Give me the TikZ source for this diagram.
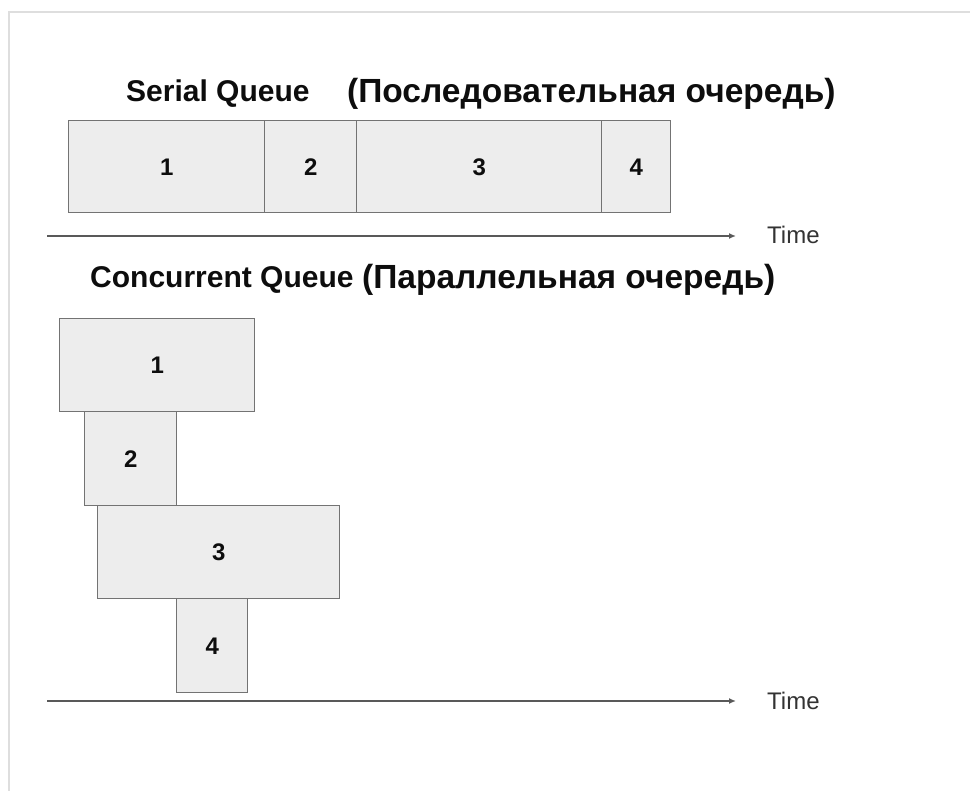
\documentclass[tikz,border=0pt]{standalone}
\usepackage{fontspec}
\setmainfont{Liberation Sans}
\usetikzlibrary{arrows.meta}
\begin{document}
\begin{tikzpicture}[
  x=1pt, y=-1pt,
  job/.style={draw=black!55, fill=black!7, line width=1.4pt, inner sep=0pt, anchor=north west,
    text height=17pt, text depth=0pt, font=\fontsize{24}{26}\selectfont\bfseries, text=black!95},
  title/.style={anchor=base west, inner sep=0pt, font=\fontsize{30}{32}\selectfont\bfseries, text=black!95},
  titleru/.style={anchor=base west, inner sep=0pt, font=\fontsize{33.5}{36}\selectfont\bfseries, text=black!95},
  timeline/.style={draw=black!65, line width=1.4pt, -{Latex[length=7pt,width=6pt]}},
  tlabel/.style={anchor=base west, inner sep=0pt, font=\fontsize{24}{26}\selectfont, text=black!80}
]
  \useasboundingbox (0,0) rectangle (970,791);
  % frame edges
  \draw[black!13, line width=1.5pt] (970,12) -- (9,12) -- (9,791);

  % serial queue
  \node[title] (serial) at (126,102) {Serial Queue};
  \node[titleru] (serialru) at (347,103) {(Последовательная очередь)};
  \node[job, minimum width=196pt, minimum height=92pt] (s1) at (68,120) {1};
  \node[job, minimum width=92pt, minimum height=92pt] (s2) at (264,120) {2};
  \node[job, minimum width=245pt, minimum height=92pt] (s3) at (356,120) {3};
  \node[job, minimum width=69pt, minimum height=92pt] (s4) at (601,120) {4};
  \coordinate (t1a) at (47,236);
  \coordinate (t1b) at (736,236);
  \draw[timeline] (t1a) -- (t1b);
  \node[tlabel] (time1) at (767,244) {Time};

  % concurrent queue
  \node[title] (conc) at (90,288) {Concurrent Queue};
  \node[titleru] (concru) at (362,289) {(Параллельная очередь)};
  \node[job, minimum width=195pt, minimum height=93pt] (c1) at (59,318) {1};
  \node[job, minimum width=92pt, minimum height=94pt] (c2) at (84,411) {2};
  \node[job, minimum width=242pt, minimum height=93pt] (c3) at (97,505) {3};
  \node[job, minimum width=71pt, minimum height=94pt] (c4) at (176,598) {4};
  \coordinate (t2a) at (47,701);
  \coordinate (t2b) at (736,701);
  \draw[timeline] (t2a) -- (t2b);
  \node[tlabel] (time2) at (767,709) {Time};
\end{tikzpicture}
\end{document}
